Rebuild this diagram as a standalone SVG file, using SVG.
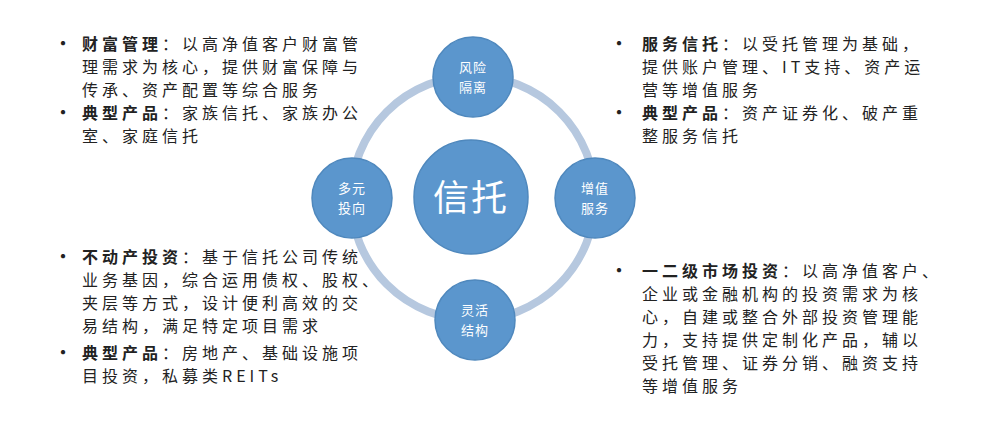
<svg xmlns="http://www.w3.org/2000/svg" width="986" height="427" viewBox="0 0 986 427">
<style>
text{font-family:"Noto Sans CJK SC","Liberation Serif",serif;fill:#222;font-size:16px;letter-spacing:4px}
.b{font-weight:bold}
.d{font-size:20px;letter-spacing:0}
.c{fill:#5b96cd;stroke:#4f88bd;stroke-width:1.5}
.w{fill:#fff;font-size:13px;text-anchor:middle;letter-spacing:1px}
</style>
<rect width="986" height="427" fill="#fff"/>
<g id="connectors"><circle cx="473" cy="198" r="122" fill="none" stroke="#b6c8df" stroke-width="8"/></g>
<g id="center"><circle class="c" cx="471" cy="197" r="57"/><text x="471" y="211" style="fill:#fff;font-size:36px;text-anchor:middle;letter-spacing:2px">信托</text></g>
<g id="n1"><circle class="c" cx="473" cy="77" r="40"/><text class="w" x="473" y="72">风险</text><text class="w" x="473" y="92">隔离</text></g>
<g id="n2"><circle class="c" cx="352" cy="198" r="40"/><text class="w" x="352" y="193">多元</text><text class="w" x="352" y="213">投向</text></g>
<g id="n3"><circle class="c" cx="595" cy="198" r="40"/><text class="w" x="595" y="193">增值</text><text class="w" x="595" y="213">服务</text></g>
<g id="n4"><circle class="c" cx="475" cy="320" r="40"/><text class="w" x="475" y="315">灵活</text><text class="w" x="475" y="335">结构</text></g>
<g id="t1">
<text class="d" x="53" y="51">•</text><text x="82" y="50"><tspan class="b">财富管理</tspan>：以高净值客户财富管</text>
<text x="82" y="73">理需求为核心，提供财富保障与</text>
<text x="82" y="96">传承、资产配置等综合服务</text>
<text class="d" x="53" y="120">•</text><text x="82" y="119"><tspan class="b">典型产品</tspan>：家族信托、家族办公</text>
<text x="82" y="142">室、家庭信托</text>
</g>
<g id="t2">
<text class="d" x="609" y="51">•</text><text x="642" y="50"><tspan class="b">服务信托</tspan>：以受托管理为基础，</text>
<text x="642" y="73">提供账户管理、IT支持、资产运</text>
<text x="642" y="96">营等增值服务</text>
<text class="d" x="609" y="120">•</text><text x="642" y="119"><tspan class="b">典型产品</tspan>：资产证券化、破产重</text>
<text x="642" y="142">整服务信托</text>
</g>
<g id="t3">
<text class="d" x="53" y="264">•</text><text x="82" y="263"><tspan class="b">不动产投资</tspan>：基于信托公司传统</text>
<text x="82" y="286">业务基因，综合运用债权、股权、</text>
<text x="82" y="309">夹层等方式，设计便利高效的交</text>
<text x="82" y="332">易结构，满足特定项目需求</text>
<text class="d" x="53" y="360">•</text><text x="82" y="359"><tspan class="b">典型产品</tspan>：房地产、基础设施项</text>
<text x="82" y="382">目投资，私募类REITs</text>
</g>
<g id="t4">
<text class="d" x="609" y="278">•</text><text x="642" y="277"><tspan class="b">一二级市场投资</tspan>：以高净值客户、</text>
<text x="642" y="300">企业或金融机构的投资需求为核</text>
<text x="642" y="323">心，自建或整合外部投资管理能</text>
<text x="642" y="346">力，支持提供定制化产品，辅以</text>
<text x="642" y="369">受托管理、证券分销、融资支持</text>
<text x="642" y="392">等增值服务</text>
</g>
</svg>
